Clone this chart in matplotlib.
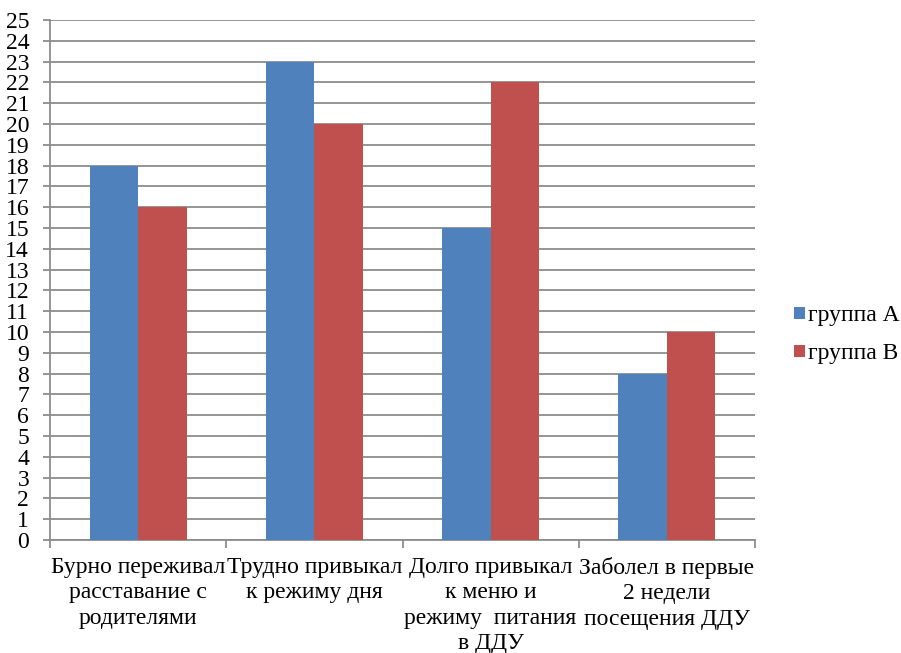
import matplotlib
matplotlib.use("Agg")
import matplotlib.pyplot as plt
import numpy as np

categories = ["Бурно переживал\nрасставание с\nродителями",
              "Трудно привыкал\nк режиму дня",
              "Долго привыкал\nк меню и\nрежиму  питания\nв ДДУ",
              "Заболел в первые\n2 недели\nпосещения ДДУ"]
group_a = [18, 23, 15, 8]
group_b = [16, 20, 22, 10]
series_names = ["группа А", "группа В"]
yticks = list(range(0, 26))

plt.rcParams['font.serif'] = ['Liberation Serif', 'DejaVu Serif']
plt.rcParams['font.family'] = 'serif'
fig = plt.figure(figsize=(9.01, 6.53), dpi=100)
ax = fig.add_axes([50/901, 1-540/653, 705/901, 520/653])

x = np.arange(len(categories))
w = 0.275
ax.bar(x - w/2, group_a, w, color="#4F81BD", label=series_names[0], zorder=3)
ax.bar(x + w/2, group_b, w, color="#C0504D", label=series_names[1], zorder=3)

ax.set_xlim(-0.5, len(categories) - 0.5)
ax.set_ylim(0, 25)
ax.set_yticks(yticks)
ax.set_yticklabels([str(t) for t in yticks], fontsize=17)
ax.yaxis.grid(True, color="#8c8c8c", linewidth=1.3, zorder=0)
ax.tick_params(axis='y', length=5, color="#8c8c8c", width=1.3, pad=10)

ax.set_xticks(x)
ax.set_xticklabels(categories, fontsize=17, linespacing=1.28)
ax.set_xticks(np.arange(-0.5, len(categories), 1.0), minor=True)
ax.tick_params(axis='x', which='major', length=0, pad=12)
ax.tick_params(axis='x', which='minor', length=6, color="#8c8c8c", width=1.3)

for s in ["top", "right"]:
    ax.spines[s].set_visible(False)
for s in ["left", "bottom"]:
    ax.spines[s].set_color("#8c8c8c")
    ax.spines[s].set_linewidth(1.3)

fig.legend(loc="center left", bbox_to_anchor=(794/901, 1-335/653), frameon=False,
           fontsize=17, handlelength=0.45, handleheight=0.45, handletextpad=0.15,
           labelspacing=0.72, borderpad=0, borderaxespad=0)

fig.savefig("out.png", dpi=100)
